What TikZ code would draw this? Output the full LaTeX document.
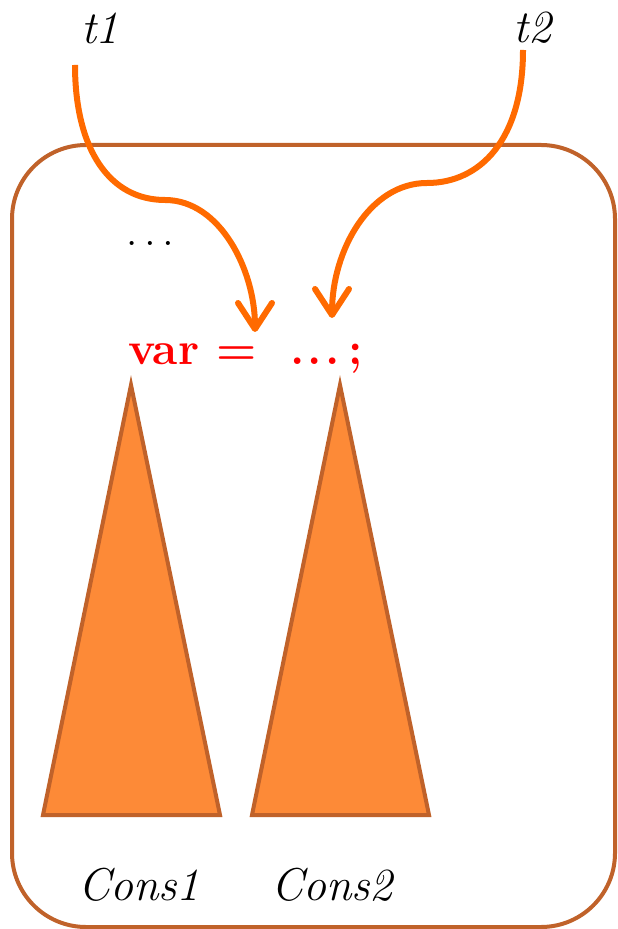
\documentclass[tikz,border=0pt]{standalone}
\usepackage{tikz}
\usetikzlibrary{arrows.meta,positioning,calc}
\definecolor{FrameBrown}{HTML}{C0622A}
\definecolor{TreeOrange}{HTML}{FD8A37}
\definecolor{FlowOrange}{HTML}{FF6A00}
\definecolor{StmtRed}{HTML}{FF0000}

\begin{document}
\begin{tikzpicture}[
	x=0.5pt, y=-0.5pt,
	label/.style={
		font=\fontsize{23}{27}\selectfont,
		inner sep=0pt
	},
	stmt/.style={
		label,
		text=StmtRed,
		font=\fontsize{23}{27}\selectfont\bfseries,
		anchor=base west
	},
	frame/.style={
		draw=FrameBrown,
		line width=2pt,
		rounded corners=37pt
	},
	tree/.style={
		draw=FrameBrown,
		fill=TreeOrange,
		line width=2pt,
		line join=miter
	},
	flow/.style={
		-{Straight Barb[length=13pt,width=17pt,round]},
		line width=3pt,
		draw=FlowOrange
	}
]
\useasboundingbox (0,0) rectangle (617,929);

% enclosing block
\draw[frame] (12,145) rectangle (615,927);

% two subtrees
\draw[tree] (131,385) -- (220,815) -- (43,815) -- cycle;
\draw[tree] (340,385) -- (429,815) -- (252,815) -- cycle;

\node[label] (cons1) at (139,885) {\textit{Cons1}};
\node[label] (cons2) at (333,885) {\textit{Cons2}};

\node[label, font=\fontsize{21}{25}\selectfont] (dots) at (150,243) {$\ldots$};

\node[stmt] (lhs) at (128,365) {var =};
\node[stmt] (rhs) at (290,365) {.\kern1.6pt.\kern1.6pt.\kern4.5pt;};

\node[label] (t1) at (100,28) {\textit{t1}};
\node[label] (t2) at (533,28) {\textit{t2}};

\coordinate (from1) at (75,65);
\coordinate (from2) at (523,50);
\coordinate (into1) at (255,332);
\coordinate (into2) at (332,318);

\draw[flow] (from1) .. controls (75,150) and (110,200) .. (165,200)
	.. controls (220,200) and (255,270) .. (into1);
\draw[flow] (from2) .. controls (523,140) and (480,183) .. (427,183)
	.. controls (370,183) and (332,250) .. (into2);

\end{tikzpicture}
\end{document}
